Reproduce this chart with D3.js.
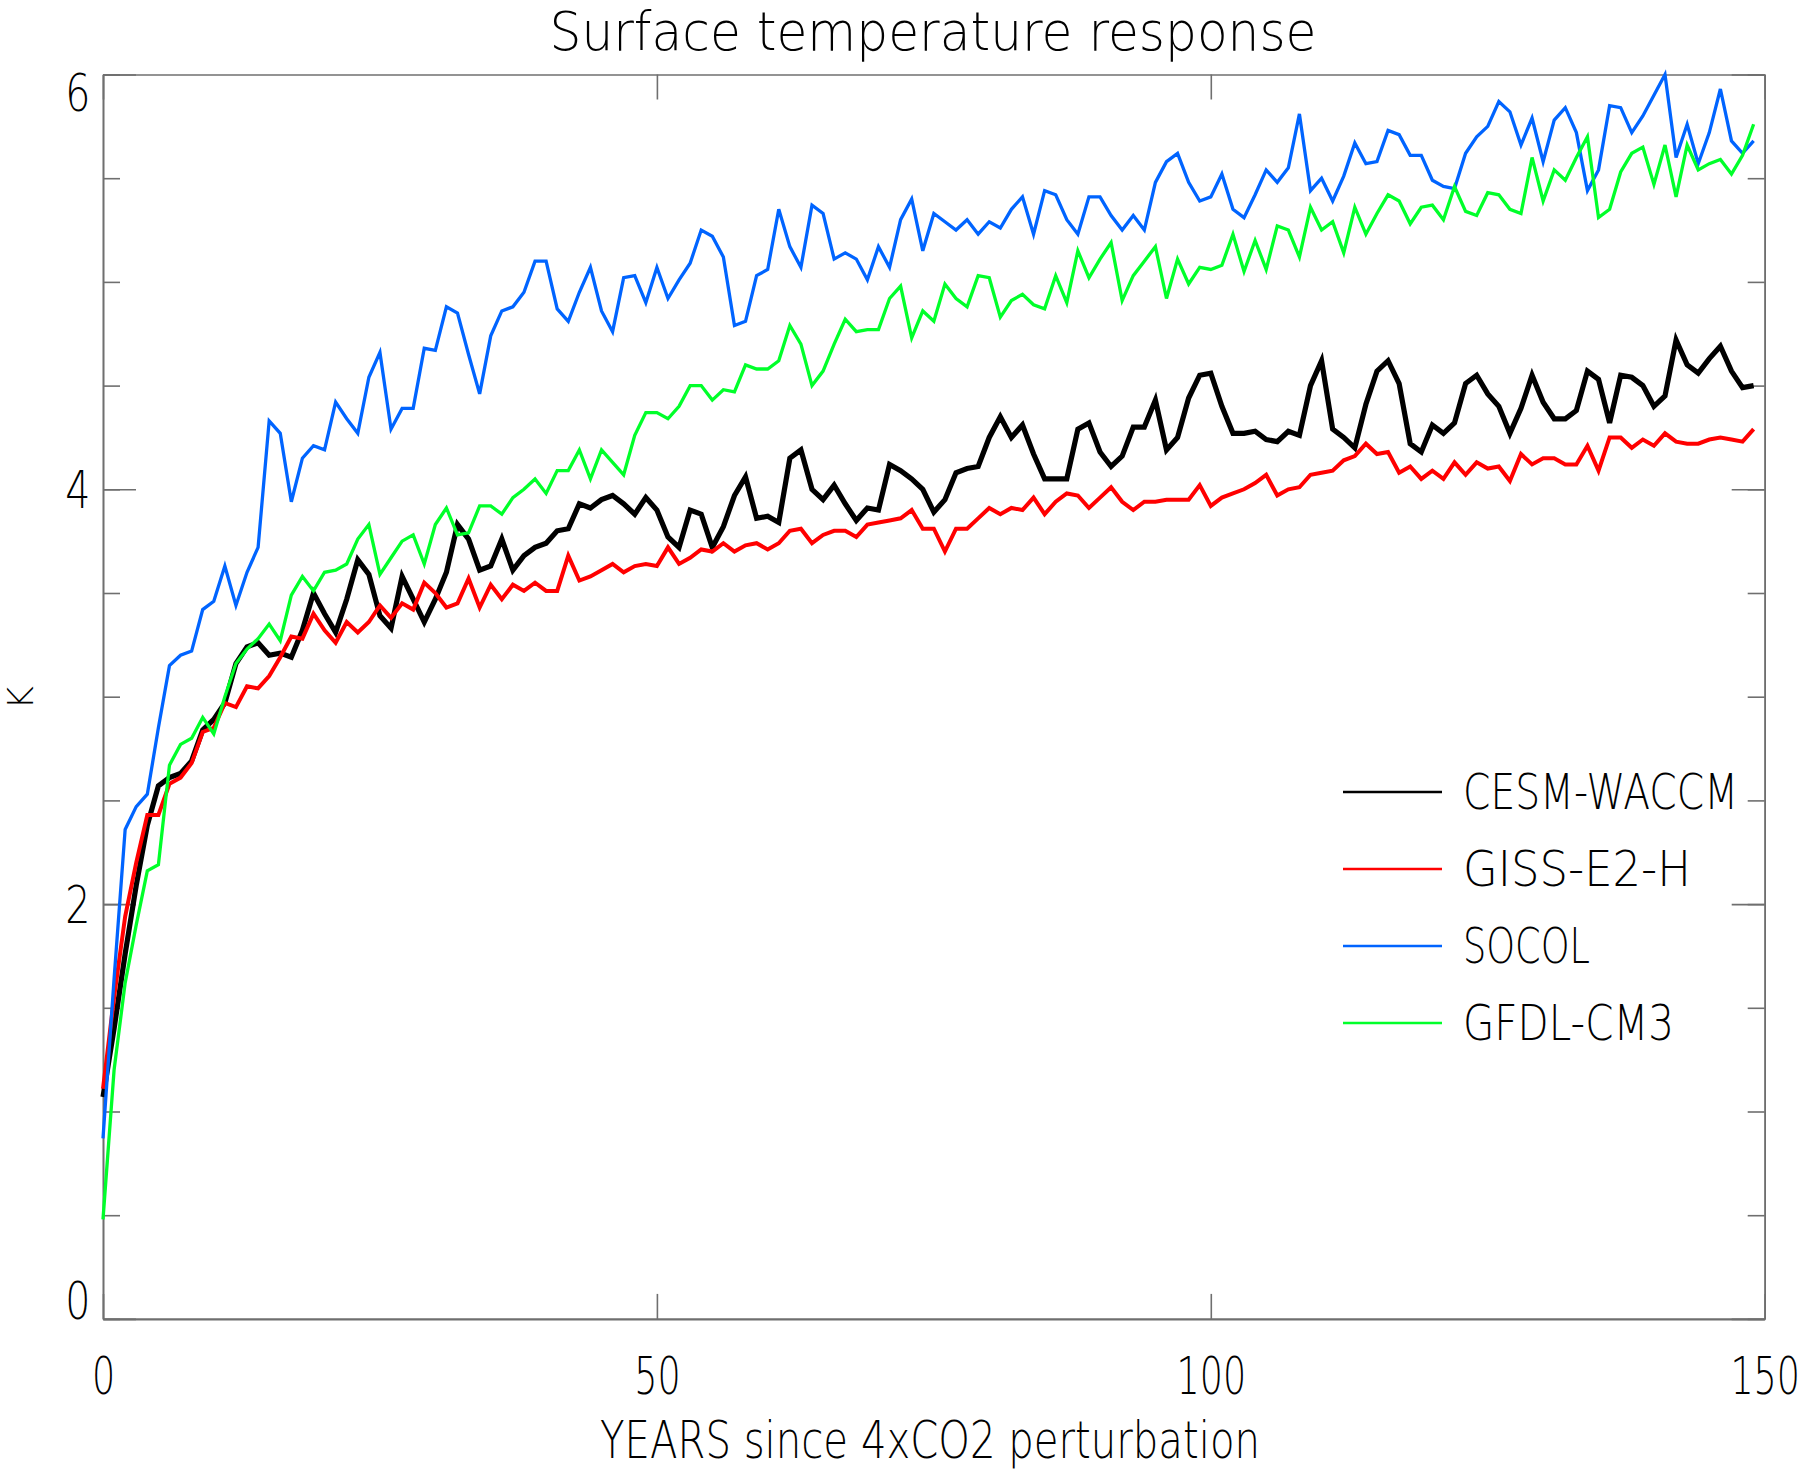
<!DOCTYPE html>
<html>
<head>
<meta charset="utf-8">
<script src="https://cdn.jsdelivr.net/npm/d3@7"></script>
<style>
  body { margin: 0; background: #fff; }
  text { font-family: 'DejaVu Sans', sans-serif; font-weight: 300; }
</style>
</head>
<body>
<script>
// data (one value per model year)
const years = d3.range(0, 150);

const cesmWaccm = [
  1.07, 1.40, 1.76, 2.09, 2.38, 2.57, 2.61, 2.63, 2.69, 2.84,
  2.89, 2.97, 3.16, 3.24, 3.26, 3.20, 3.21, 3.19, 3.32, 3.50,
  3.40, 3.31, 3.47, 3.66, 3.59, 3.39, 3.33, 3.58, 3.47, 3.36,
  3.47, 3.60, 3.83, 3.76, 3.61, 3.63, 3.76, 3.61, 3.68, 3.72,
  3.74, 3.80, 3.81, 3.93, 3.91, 3.95, 3.97, 3.93, 3.88, 3.96,
  3.90, 3.77, 3.72, 3.90, 3.88, 3.72, 3.82, 3.97, 4.06, 3.86,
  3.87, 3.84, 4.15, 4.19, 4.00, 3.95, 4.02, 3.93, 3.85, 3.91,
  3.90, 4.12, 4.09, 4.05, 4.00, 3.89, 3.95, 4.08, 4.10, 4.11,
  4.25, 4.35, 4.25, 4.31, 4.17, 4.05, 4.05, 4.05, 4.29, 4.32,
  4.18, 4.11, 4.16, 4.30, 4.30, 4.43, 4.19, 4.25, 4.44, 4.55,
  4.56, 4.40, 4.27, 4.27, 4.28, 4.24, 4.23, 4.28, 4.26, 4.50,
  4.62, 4.29, 4.25, 4.20, 4.41, 4.57, 4.62, 4.51, 4.22, 4.18,
  4.31, 4.27, 4.32, 4.51, 4.55, 4.46, 4.40, 4.27, 4.39, 4.55,
  4.42, 4.34, 4.34, 4.38, 4.57, 4.53, 4.32, 4.55, 4.54, 4.50,
  4.40, 4.45, 4.72, 4.60, 4.56, 4.63, 4.69, 4.57, 4.49, 4.50
];

const gissE2H = [
  1.11, 1.55, 1.94, 2.20, 2.43, 2.43, 2.58, 2.61, 2.68, 2.83,
  2.85, 2.97, 2.95, 3.05, 3.04, 3.10, 3.19, 3.29, 3.28, 3.40,
  3.32, 3.26, 3.36, 3.31, 3.36, 3.44, 3.38, 3.45, 3.42, 3.55,
  3.50, 3.43, 3.45, 3.57, 3.43, 3.54, 3.47, 3.54, 3.51, 3.55,
  3.51, 3.51, 3.68, 3.56, 3.58, 3.61, 3.64, 3.60, 3.63, 3.64,
  3.63, 3.72, 3.64, 3.67, 3.71, 3.70, 3.74, 3.70, 3.73, 3.74,
  3.71, 3.74, 3.80, 3.81, 3.74, 3.78, 3.80, 3.80, 3.77, 3.83,
  3.84, 3.85, 3.86, 3.90, 3.81, 3.81, 3.70, 3.81, 3.81, 3.86,
  3.91, 3.88, 3.91, 3.90, 3.96, 3.88, 3.94, 3.98, 3.97, 3.91,
  3.96, 4.01, 3.94, 3.90, 3.94, 3.94, 3.95, 3.95, 3.95, 4.02,
  3.92, 3.96, 3.98, 4.00, 4.03, 4.07, 3.97, 4.00, 4.01, 4.07,
  4.08, 4.09, 4.14, 4.16, 4.22, 4.17, 4.18, 4.08, 4.11, 4.05,
  4.09, 4.05, 4.13, 4.07, 4.13, 4.10, 4.11, 4.04, 4.17, 4.12,
  4.15, 4.15, 4.12, 4.12, 4.21, 4.09, 4.25, 4.25, 4.20, 4.24,
  4.21, 4.27, 4.23, 4.22, 4.22, 4.24, 4.25, 4.24, 4.23, 4.29
];

const socol = [
  0.87, 1.64, 2.36, 2.47, 2.53, 2.85, 3.15, 3.20, 3.22, 3.42,
  3.46, 3.63, 3.44, 3.60, 3.72, 4.33, 4.27, 3.94, 4.15, 4.21,
  4.19, 4.42, 4.34, 4.27, 4.54, 4.66, 4.29, 4.39, 4.39, 4.68,
  4.67, 4.88, 4.85, 4.65, 4.46, 4.74, 4.86, 4.88, 4.95, 5.10,
  5.10, 4.87, 4.81, 4.95, 5.07, 4.86, 4.76, 5.02, 5.03, 4.90,
  5.07, 4.92, 5.01, 5.09, 5.25, 5.22, 5.12, 4.79, 4.81, 5.03,
  5.06, 5.35, 5.17, 5.07, 5.37, 5.33, 5.11, 5.14, 5.11, 5.01,
  5.17, 5.07, 5.30, 5.40, 5.15, 5.33, 5.29, 5.25, 5.30, 5.23,
  5.29, 5.26, 5.35, 5.41, 5.23, 5.44, 5.42, 5.30, 5.23, 5.41,
  5.41, 5.32, 5.25, 5.32, 5.25, 5.48, 5.58, 5.62, 5.48, 5.39,
  5.41, 5.52, 5.35, 5.31, 5.42, 5.54, 5.48, 5.55, 5.81, 5.44,
  5.50, 5.39, 5.51, 5.67, 5.57, 5.58, 5.73, 5.71, 5.61, 5.61,
  5.49, 5.46, 5.45, 5.62, 5.70, 5.75, 5.87, 5.82, 5.66, 5.79,
  5.58, 5.78, 5.84, 5.72, 5.44, 5.54, 5.85, 5.84, 5.72, 5.80,
  5.90, 6.00, 5.60, 5.76, 5.57, 5.72, 5.93, 5.68, 5.62, 5.68
];

const gfdlCm3 = [
  0.48, 1.20, 1.62, 1.90, 2.16, 2.19, 2.67, 2.77, 2.80, 2.90,
  2.82, 3.00, 3.16, 3.23, 3.28, 3.35, 3.27, 3.49, 3.58, 3.51,
  3.60, 3.61, 3.64, 3.76, 3.83, 3.59, 3.67, 3.75, 3.78, 3.64,
  3.83, 3.91, 3.78, 3.79, 3.92, 3.92, 3.88, 3.96, 4.00, 4.05,
  3.98, 4.09, 4.09, 4.19, 4.05, 4.19, 4.13, 4.07, 4.26, 4.37,
  4.37, 4.34, 4.40, 4.50, 4.50, 4.43, 4.48, 4.47, 4.60, 4.58,
  4.58, 4.62, 4.79, 4.70, 4.50, 4.57, 4.70, 4.82, 4.76, 4.77,
  4.77, 4.92, 4.98, 4.73, 4.86, 4.81, 4.99, 4.92, 4.88, 5.03,
  5.02, 4.83, 4.91, 4.94, 4.89, 4.87, 5.03, 4.90, 5.15, 5.02,
  5.11, 5.19, 4.91, 5.03, 5.10, 5.17, 4.92, 5.11, 4.99, 5.07,
  5.06, 5.08, 5.23, 5.05, 5.20, 5.06, 5.27, 5.25, 5.12, 5.36,
  5.25, 5.29, 5.14, 5.36, 5.23, 5.33, 5.42, 5.39, 5.28, 5.36,
  5.37, 5.30, 5.46, 5.34, 5.32, 5.43, 5.42, 5.35, 5.33, 5.60,
  5.39, 5.54, 5.49, 5.60, 5.70, 5.31, 5.35, 5.53, 5.62, 5.65,
  5.47, 5.66, 5.41, 5.66, 5.54, 5.57, 5.59, 5.52, 5.61, 5.76
];

const modelNames = ['CESM-WACCM', 'GISS-E2-H', 'SOCOL', 'GFDL-CM3'];
const xTicks = [0, 50, 100, 150];
const yTicks = [0, 2, 4, 6];
const yMinorTicks = d3.range(0, 6.01, 0.5);

// styles
const colors = ['#000000', '#ff0000', '#0064ff', '#00ff2a'];
const lineWidths = [5.2, 4, 3.3, 3.3];
const axisColor = '#6f6f6f';

const series = modelNames.map((name, i) => ({
  name: name,
  values: [cesmWaccm, gissE2H, socol, gfdlCm3][i],
  color: colors[i],
  width: lineWidths[i],
}));

// canvas
const width = 1800;
const height = 1471;
const margin = { top: 74.5, right: 35.3, bottom: 152.1, left: 103 };

const svg = d3.select('body').append('svg').attr('width', width).attr('height', height);

const x = d3.scaleLinear().domain([0, 150]).range([margin.left, width - margin.right]);
const y = d3.scaleLinear().domain([0, 6]).range([height - margin.bottom, margin.top]);

const tickFont = 50.7;
const capH = 37;

const styleAxis = (g, sw) => {
  g.attr('color', axisColor).attr('font-size', tickFont);
  g.selectAll('line').attr('stroke-width', 1.6);
  g.select('.domain').attr('stroke-width', sw);
  g.selectAll('text').attr('fill', '#000');
};

// x axes
svg.append('g')
  .attr('transform', `translate(0, ${y(0)})`)
  .call(d3.axisBottom(x).tickValues(xTicks).tickSize(-25).tickSizeOuter(0).tickPadding(39).tickFormat(d3.format('d')))
  .call((g) => styleAxis(g, 2.4))
  .call((g) => g.selectAll('text').attr('transform', 'scale(0.72,1)'));

svg.append('g')
  .attr('transform', `translate(0, ${y(6)})`)
  .call(d3.axisTop(x).tickValues(xTicks).tickSize(-25).tickSizeOuter(0).tickFormat(() => ''))
  .call((g) => styleAxis(g, 1.6));

// y axes
const yLeft = svg.append('g')
  .attr('transform', `translate(${x(0)}, 0)`)
  .call(d3.axisLeft(y).tickValues(yTicks).tickSize(-33).tickSizeOuter(0).tickPadding(16).tickFormat(d3.format('d')))
  .call((g) => styleAxis(g, 1.6));

yLeft.selectAll('text')
  .attr('dy', null)
  .attr('y', (d) => Math.min(Math.max(capH / 2, y(6) + capH - 1.5 - y(d)), y(0) - y(d)))
  .attr('transform', 'scale(0.78,1)');

svg.append('g')
  .attr('transform', `translate(${x(0)}, 0)`)
  .call(d3.axisLeft(y).tickValues(yMinorTicks).tickSize(-17).tickSizeOuter(0).tickFormat(() => ''))
  .call((g) => styleAxis(g, 1.6));

svg.append('g')
  .attr('transform', `translate(${x(150)}, 0)`)
  .call(d3.axisRight(y).tickValues(yTicks).tickSize(-33).tickSizeOuter(0).tickFormat(() => ''))
  .call((g) => styleAxis(g, 1.6));

svg.append('g')
  .attr('transform', `translate(${x(150)}, 0)`)
  .call(d3.axisRight(y).tickValues(yMinorTicks).tickSize(-17).tickSizeOuter(0).tickFormat(() => ''))
  .call((g) => styleAxis(g, 1.6));

// lines
const line = d3.line()
  .x((d, i) => x(years[i]))
  .y((d) => y(d));

svg.append('g')
  .selectAll('path')
  .data(series)
  .enter()
  .append('path')
  .attr('fill', 'none')
  .attr('stroke', (d) => d.color)
  .attr('stroke-width', (d) => d.width)
  .attr('stroke-linejoin', 'miter')
  .attr('d', (d) => line(d.values));

// legend
const legendWidths = [275, 228, 127, 211];
const legend = svg.append('g')
  .selectAll('g')
  .data(series)
  .enter()
  .append('g')
  .attr('transform', (d, i) => `translate(1343, ${792 + i * 77})`);

legend.append('line')
  .attr('x1', 0)
  .attr('x2', 99)
  .attr('stroke', (d) => d.color)
  .attr('stroke-width', 2.7);

legend.append('text')
  .attr('x', 120)
  .attr('y', 17)
  .attr('font-size', 49)
  .attr('textLength', (d, i) => legendWidths[i])
  .attr('lengthAdjust', 'spacingAndGlyphs')
  .text((d) => d.name);

// title and axis labels
svg.append('text')
  .attr('x', 933)
  .attr('y', 49.5)
  .attr('text-anchor', 'middle')
  .attr('font-size', 53)
  .attr('textLength', 767)
  .attr('lengthAdjust', 'spacingAndGlyphs')
  .text('Surface temperature response');

svg.append('text')
  .attr('x', 930)
  .attr('y', 1458)
  .attr('text-anchor', 'middle')
  .attr('font-size', tickFont)
  .attr('textLength', 660)
  .attr('lengthAdjust', 'spacingAndGlyphs')
  .text('YEARS since 4xCO2 perturbation');

svg.append('text')
  .attr('transform', 'translate(33, 698) rotate(-90)')
  .attr('text-anchor', 'middle')
  .attr('font-size', 36)
  .text('K');
</script>
</body>
</html>
